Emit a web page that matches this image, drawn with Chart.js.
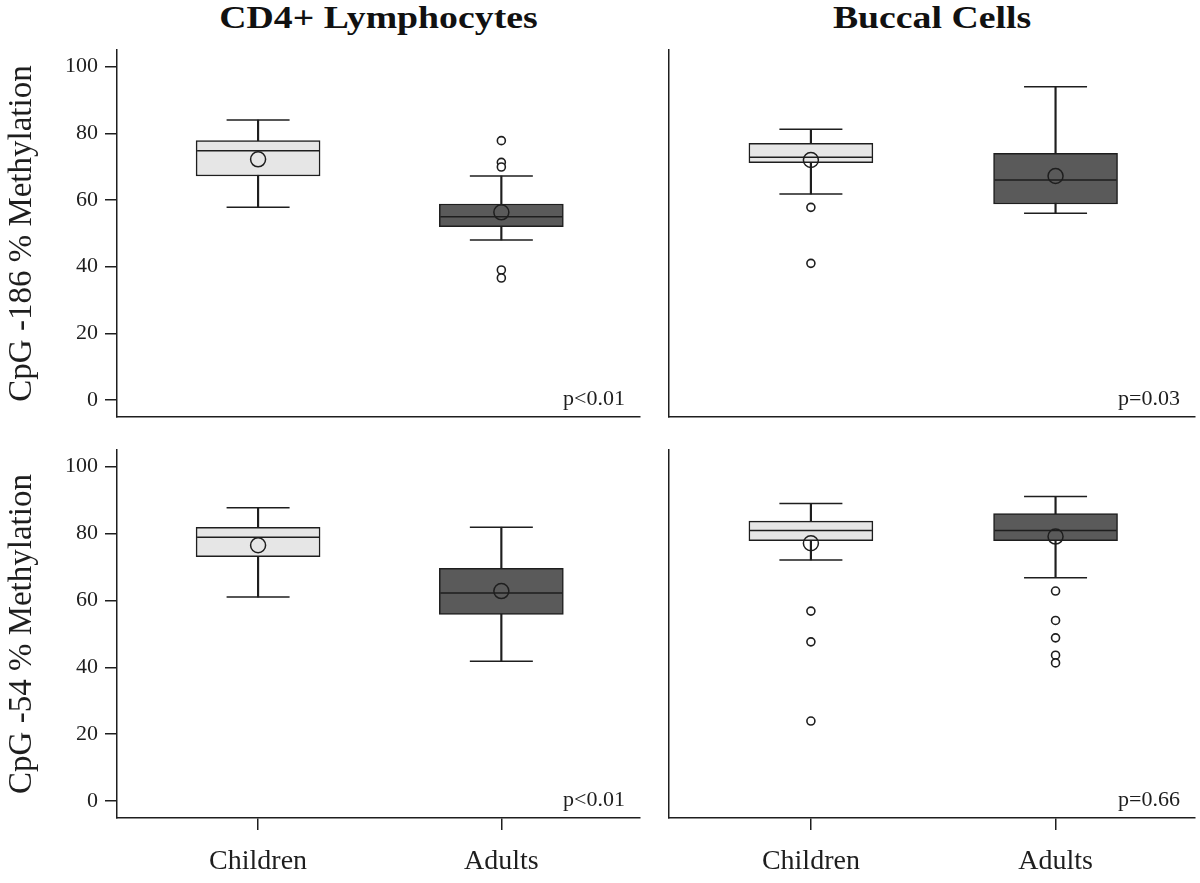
<!DOCTYPE html>
<html>
<head>
<meta charset="utf-8">
<script src="https://cdn.jsdelivr.net/npm/chart.js@4/dist/chart.umd.min.js"></script>
<style>
  body { margin: 0; background: #fff; width: 1200px; height: 883px; position: relative; overflow: hidden; font-family: 'Liberation Serif', serif; }
  .title { position: absolute; top: 1px; font-weight: bold; font-size: 32px; line-height: 32px; color: #111; text-align: center; transform: scaleX(1.18); }
  canvas { position: absolute; }
</style>
</head>
<body>
<div class="title" style="left:117px;width:523px">CD4+ Lymphocytes</div>
<div class="title" style="left:669px;width:526px">Buccal Cells</div>
<canvas id="c1" width="650" height="400" style="left:0;top:40px"></canvas>
<canvas id="c2" width="600" height="400" style="left:600px;top:40px"></canvas>
<canvas id="c3" width="650" height="443" style="left:0;top:440px"></canvas>
<canvas id="c4" width="600" height="443" style="left:600px;top:440px"></canvas>
<script>
var groups = ['Children', 'Adults'];
// per group: [lower whisker, Q1, median, Q3, upper whisker]
var lymph186Box = [[57.8, 67.2, 74.8, 77.8, 84.0], [48.0, 52.0, 55.0, 58.8, 67.2]];
var lymph186Mean = [72.2, 56.3];
var lymph186Out = [[], [77.8, 71.3, 69.9, 39.0, 36.6]];
var buccal186Box = [[61.8, 71.2, 72.8, 77.0, 81.2], [56.0, 58.8, 66.0, 74.0, 94.0]];
var buccal186Mean = [72.0, 67.2];
var buccal186Out = [[57.8, 41.0], []];
var lymph54Box = [[61.0, 73.1, 78.9, 81.9, 87.7], [41.8, 55.8, 62.2, 69.6, 81.9]];
var lymph54Mean = [76.5, 62.8];
var lymph54Out = [[], []];
var buccal54Box = [[72.1, 77.9, 80.9, 83.7, 89.0], [66.8, 77.9, 80.9, 86.0, 91.1]];
var buccal54Mean = [77.1, 79.1];
var buccal54Out = [[56.8, 47.6, 23.9], [62.8, 54.0, 48.8, 43.6, 41.3]];
var pValues = ['p<0.01', 'p=0.03', 'p<0.01', 'p=0.66'];
var yTicks = [0, 20, 40, 60, 80, 100];
var boxColors = ['#e6e6e6', '#5a5a5a'];

var INK = '#1e1e1e';
var SERIF = "'Liberation Serif', 'Times New Roman', serif";

// writes the p value in the lower right corner of the plot area
var pLabel = {
  id: 'pLabel',
  afterDraw: function (chart, args, opts) {
    var ctx = chart.ctx, area = chart.chartArea;
    ctx.save();
    ctx.font = '22px ' + SERIF;
    ctx.fillStyle = INK;
    ctx.textAlign = 'right';
    ctx.textBaseline = 'alphabetic';
    ctx.fillText(opts.text, area.right - 15, area.bottom - 12);
    ctx.restore();
  }
};

function boxPlot(id, box, mean, out, pText, showY, showX, yTitle)
{
  var datasets = [
    { // whisker stems
      type: 'bar', grouped: false, order: 5,
      data: box.map(function (b, i) { return { x: i + 1, y: [b[0], b[4]] }; }),
      backgroundColor: INK, barThickness: 1.5
    },
    { // boxes
      type: 'bar', grouped: false, order: 4,
      data: box.map(function (b, i) { return { x: i + 1, y: [b[1], b[3]] }; }),
      backgroundColor: boxColors, borderColor: INK, borderWidth: 1.5,
      borderSkipped: false, barThickness: 124
    },
    { // whisker caps
      type: 'scatter', order: 3,
      data: box.flatMap(function (b, i) { return [{ x: i + 1, y: b[0] }, { x: i + 1, y: b[4] }]; }),
      pointStyle: 'line', pointRadius: 31.5, pointHoverRadius: 31.5,
      pointBorderColor: INK, pointBorderWidth: 1.5
    },
    { // medians
      type: 'scatter', order: 2,
      data: box.map(function (b, i) { return { x: i + 1, y: b[2] }; }),
      pointStyle: 'line', pointRadius: 61, pointHoverRadius: 61,
      pointBorderColor: INK, pointBorderWidth: 1.5
    },
    { // means
      type: 'scatter', order: 1,
      data: mean.map(function (m, i) { return { x: i + 1, y: m }; }),
      pointStyle: 'circle', pointRadius: 7.5, pointHoverRadius: 7.5,
      pointBorderColor: INK, pointBorderWidth: 1.5, pointBackgroundColor: 'rgba(0,0,0,0)'
    },
    { // outliers
      type: 'scatter', order: 0,
      data: out.flatMap(function (o, i) { return o.map(function (v) { return { x: i + 1, y: v }; }); }),
      pointStyle: 'circle', pointRadius: 4, pointHoverRadius: 4,
      pointBorderColor: INK, pointBorderWidth: 1.6, pointBackgroundColor: '#fff'
    }
  ];

  new Chart(document.getElementById(id), {
    type: 'bar',
    data: { datasets: datasets },
    plugins: [pLabel],
    options: {
      responsive: false,
      animation: false,
      events: [],
      layout: { autoPadding: false, padding: { top: 10, right: showY ? 10 : 5, bottom: 0, left: 0 } },
      plugins: {
        legend: { display: false },
        tooltip: { enabled: false },
        pLabel: { text: pText }
      },
      scales: {
        x: {
          type: 'linear', min: 0.42, max: 2.57, offset: false,
          afterBuildTicks: function (s) { s.ticks = groups.map(function (g, i) { return { value: i + 1 }; }); },
          afterFit: function (s) { s.height = showX ? 65 : 23; s.paddingLeft = 0; s.paddingRight = 0; },
          ticks: {
            display: showX, color: INK, padding: 15, maxRotation: 0,
            font: { family: SERIF, size: 28 },
            callback: function (v) { return groups[v - 1]; }
          },
          grid: { offset: false, drawOnChartArea: false, drawTicks: showX, tickLength: 12, color: INK, lineWidth: 1.5 },
          border: { display: true, color: INK, width: 1.5 }
        },
        y: {
          min: -5.1, max: 105,
          afterBuildTicks: function (s) { s.ticks = yTicks.map(function (v) { return { value: v }; }); },
          afterFit: function (s) { s.width = showY ? 117 : 69; s.paddingTop = 0; s.paddingBottom = 0; },
          ticks: { display: showY, color: INK, padding: 7, font: { family: SERIF, size: 22 } },
          grid: { drawOnChartArea: false, drawTicks: showY, tickLength: 12, color: INK, lineWidth: 1.5 },
          border: { display: true, color: INK, width: 1.5 },
          title: { display: showY, text: yTitle, color: INK, padding: 3, font: { family: SERIF, size: 33 } }
        }
      }
    }
  });
}

boxPlot('c1', lymph186Box, lymph186Mean, lymph186Out, pValues[0], true, false, 'CpG -186 % Methylation');
boxPlot('c2', buccal186Box, buccal186Mean, buccal186Out, pValues[1], false, false, '');
boxPlot('c3', lymph54Box, lymph54Mean, lymph54Out, pValues[2], true, true, 'CpG -54 % Methylation');
boxPlot('c4', buccal54Box, buccal54Mean, buccal54Out, pValues[3], false, true, '');
</script>
</body>
</html>
